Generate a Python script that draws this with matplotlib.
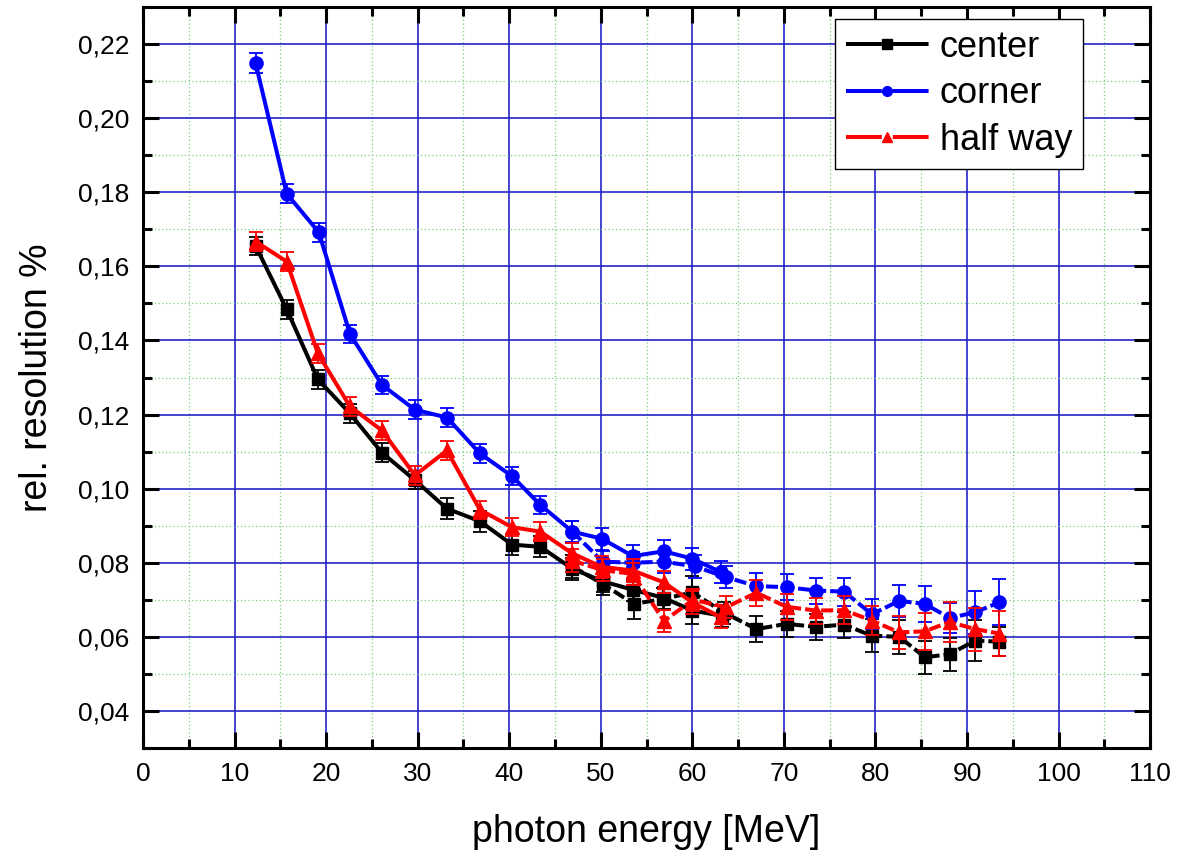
import matplotlib
matplotlib.use("Agg")
import matplotlib.pyplot as plt
from matplotlib.lines import Line2D
from matplotlib.ticker import MultipleLocator, FuncFormatter

# ---- measured data: two runs per position (low-energy run, high-energy run) ----
center_low_e = [12.3, 15.7, 19.1, 22.6, 26.1, 29.7, 33.2, 36.8, 40.3, 43.4, 46.9, 50.2, 53.5, 56.9, 60.0, 63.2]
center_low_r = [0.1655, 0.1484, 0.1295, 0.1203, 0.1097, 0.1023, 0.0946, 0.0912, 0.0849, 0.0843, 0.0784, 0.0750, 0.0727, 0.0705, 0.0671, 0.0657]
center_low_err = [0.0025, 0.0025, 0.0025, 0.0025, 0.0025, 0.0025, 0.0028, 0.0028, 0.0028, 0.0028, 0.0030, 0.0030, 0.0030, 0.0030, 0.0035, 0.0030]

center_high_e = [46.9, 50.2, 53.6, 56.8, 60.0, 63.5, 67.0, 70.3, 73.5, 76.6, 79.6, 82.6, 85.4, 88.1, 90.9, 93.5]
center_high_r = [0.0790, 0.0743, 0.0689, 0.0702, 0.0720, 0.0665, 0.0621, 0.0635, 0.0627, 0.0633, 0.0603, 0.0600, 0.0545, 0.0553, 0.0590, 0.0587]
center_high_err = [0.0030, 0.0030, 0.0040, 0.0030, 0.0045, 0.0030, 0.0035, 0.0035, 0.0035, 0.0035, 0.0045, 0.0045, 0.0045, 0.0045, 0.0055, 0.0040]

corner_low_e = [12.3, 15.7, 19.2, 22.6, 26.1, 29.7, 33.2, 36.8, 40.3, 43.4, 46.9, 50.1, 53.5, 56.9, 60.0, 63.1]
corner_low_r = [0.2148, 0.1796, 0.1692, 0.1418, 0.1280, 0.1213, 0.1192, 0.1095, 0.1034, 0.0956, 0.0884, 0.0865, 0.0818, 0.0831, 0.0811, 0.0775]
corner_low_err = [0.0027, 0.0025, 0.0025, 0.0025, 0.0025, 0.0025, 0.0025, 0.0025, 0.0025, 0.0025, 0.0028, 0.0030, 0.0030, 0.0030, 0.0030, 0.0030]

corner_high_e = [46.9, 50.2, 53.5, 56.9, 60.3, 63.7, 67.0, 70.3, 73.5, 76.6, 79.6, 82.6, 85.4, 88.1, 90.9, 93.5]
corner_high_r = [0.0884, 0.0803, 0.0800, 0.0803, 0.0790, 0.0761, 0.0737, 0.0734, 0.0725, 0.0722, 0.0661, 0.0697, 0.0689, 0.0651, 0.0666, 0.0693]
corner_high_err = [0.0030, 0.0030, 0.0030, 0.0030, 0.0030, 0.0030, 0.0035, 0.0035, 0.0035, 0.0038, 0.0040, 0.0043, 0.0048, 0.0040, 0.0058, 0.0062]

half_low_e = [12.3, 15.7, 19.1, 22.6, 26.1, 29.7, 33.2, 36.8, 40.3, 43.4, 46.9, 50.1, 53.5, 56.9, 60.0, 63.1]
half_low_r = [0.1667, 0.1613, 0.1365, 0.1222, 0.1157, 0.1036, 0.1103, 0.0943, 0.0896, 0.0884, 0.0825, 0.0789, 0.0779, 0.0747, 0.0693, 0.0653]
half_low_err = [0.0025, 0.0025, 0.0025, 0.0025, 0.0025, 0.0025, 0.0025, 0.0025, 0.0025, 0.0025, 0.0028, 0.0030, 0.0030, 0.0030, 0.0030, 0.0030]

half_high_e = [46.9, 50.2, 53.5, 56.9, 60.1, 63.7, 67.0, 70.3, 73.5, 76.6, 79.6, 82.6, 85.4, 88.1, 90.9, 93.5]
half_high_r = [0.0806, 0.0780, 0.0770, 0.0643, 0.0700, 0.0680, 0.0719, 0.0681, 0.0671, 0.0672, 0.0644, 0.0612, 0.0615, 0.0640, 0.0621, 0.0609]
half_high_err = [0.0030, 0.0030, 0.0030, 0.0030, 0.0030, 0.0030, 0.0035, 0.0035, 0.0035, 0.0038, 0.0040, 0.0045, 0.0050, 0.0055, 0.0058, 0.0062]

labels = ["center", "corner", "half way"]
colors = ["black", "#0000ff", "#ff0000"]
markers = ["s", "o", "^"]
msizes = [8.0, 9.5, 10.0]

x_ticks = list(range(0, 111, 10))
y_ticks = [0.04, 0.06, 0.08, 0.10, 0.12, 0.14, 0.16, 0.18, 0.20, 0.22]

plt.rcParams["font.family"] = ["Liberation Sans", "DejaVu Sans"]

fig = plt.figure(figsize=(11.81, 8.57), dpi=100)
ax = fig.add_axes([0.1211, 0.1272, 0.8527, 0.8646])

series = [
    (center_low_e, center_low_r, center_low_err, center_high_e, center_high_r, center_high_err),
    (corner_low_e, corner_low_r, corner_low_err, corner_high_e, corner_high_r, corner_high_err),
    (half_low_e, half_low_r, half_low_err, half_high_e, half_high_r, half_high_err),
]

for i, (le, lr, lerr, he, hr, herr) in enumerate(series):
    common = dict(color=colors[i], marker=markers[i], markersize=msizes[i],
                  lw=2.9, elinewidth=1.3, capsize=4.8, capthick=1.3, zorder=3 + i)
    ax.errorbar(le, lr, yerr=lerr, linestyle="-", **common)
    ax.errorbar(he, hr, yerr=herr, linestyle=(0, (3.0, 1.0)), **common)

ax.set_xlim(0, 110)
ax.set_ylim(0.03, 0.23)
ax.set_xticks(x_ticks)
ax.set_yticks(y_ticks)
ax.xaxis.set_minor_locator(MultipleLocator(5))
ax.yaxis.set_minor_locator(MultipleLocator(0.01))
ax.yaxis.set_major_formatter(FuncFormatter(lambda v, p: f"{v:.2f}".replace(".", ",")))

ax.grid(which="major", color="#2424c8", lw=1.2, ls="-", zorder=0)
ax.grid(which="minor", color="#7fcf7f", lw=0.9, ls=(0, (1, 2)), zorder=0)
ax.set_axisbelow(True)

ax.tick_params(which="both", direction="in", top=True, right=True, width=2.2, colors="black")
ax.tick_params(which="major", length=11.5, labelsize=19, pad=10)
ax.tick_params(which="minor", length=6.5)
for s in ax.spines.values():
    s.set_linewidth(2.2)

ax.set_xlabel("photon energy [MeV]", fontsize=27, labelpad=20)
ax.set_ylabel("rel. resolution %", fontsize=27, labelpad=16)

# legend entries: line - symbol - line, with a small gap around the symbol
handles = [(Line2D([], [], color=c, lw=2.9, dashes=(8.9, 2.7)),
            Line2D([], [], color=c, marker=m, markersize=7, lw=0))
           for c, m in zip(colors, markers)]
leg = ax.legend(handles, labels, loc="upper right", bbox_to_anchor=(0.9335, 0.9838),
                borderaxespad=0, fontsize=26, handlelength=2.3, handletextpad=0.3,
                labelspacing=0.32, borderpad=0.3, fancybox=False, framealpha=1,
                edgecolor="black")
leg.get_frame().set_linewidth(1.0)

fig.savefig("out.png", dpi=100)
